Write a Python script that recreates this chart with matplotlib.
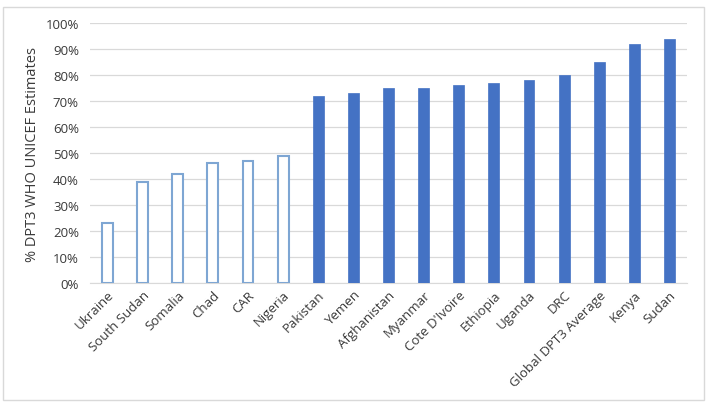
import matplotlib
matplotlib.use("Agg")
import matplotlib.pyplot as plt
from matplotlib.patches import Rectangle
from matplotlib.ticker import FuncFormatter

countries = ["Ukraine", "South Sudan", "Somalia", "Chad", "CAR", "Nigeria",
             "Pakistan", "Yemen", "Afghanistan", "Myanmar", "Cote D'Ivoire",
             "Ethiopia", "Uganda", "DRC", "Global DPT3 Average", "Kenya", "Sudan"]
dpt3 = [23, 39, 42, 46, 47, 49, 72, 73, 75, 75, 76, 77, 78, 80, 85, 92, 94]
below_50 = [True] * 6 + [False] * 11

plt.rcParams["font.family"] = ["Open Sans", "DejaVu Sans"]
text_col = "#3A3A3A"

fig = plt.figure(figsize=(7.08, 4.06), dpi=100)
ax = fig.add_axes([90 / 708, 1 - 284 / 406, 597 / 708, 260 / 406])

x = list(range(len(countries)))
for i, v, hollow in zip(x, dpt3, below_50):
    if hollow:
        ax.bar(i, v, width=0.31, color="white", edgecolor="#7EA6D3", linewidth=1.5, zorder=3)
    else:
        ax.bar(i, v, width=0.31, color="#4472C4", edgecolor="#4472C4", linewidth=0.5, zorder=3)

ax.set_xlim(-0.5, len(countries) - 0.5)
ax.set_ylim(0, 100)
ax.set_yticks(range(0, 101, 10))
ax.yaxis.set_major_formatter(FuncFormatter(lambda v, p: f"{int(v)}%"))
ax.grid(axis="y", color="#D9D9D9", linewidth=0.9, zorder=0)
ax.set_axisbelow(True)
for s in ["top", "right", "left"]:
    ax.spines[s].set_visible(False)
ax.spines["bottom"].set_color("#D9D9D9")
ax.tick_params(axis="both", length=0, colors=text_col, labelsize=9.5)
ax.tick_params(axis="y", pad=8)
ax.set_xticks(x)
ax.set_xticklabels(countries, rotation=45, ha="right", rotation_mode="anchor")
ax.set_ylabel("% DPT3 WHO UNICEF Estimates", color=text_col, fontsize=10.5, labelpad=4)

fig.patches.append(Rectangle((3 / 708, 1 - 401 / 406), 701 / 708, 393 / 406,
                             transform=fig.transFigure, fill=False,
                             edgecolor="#D9D9D9", linewidth=1))

fig.savefig("out.png", dpi=100)
